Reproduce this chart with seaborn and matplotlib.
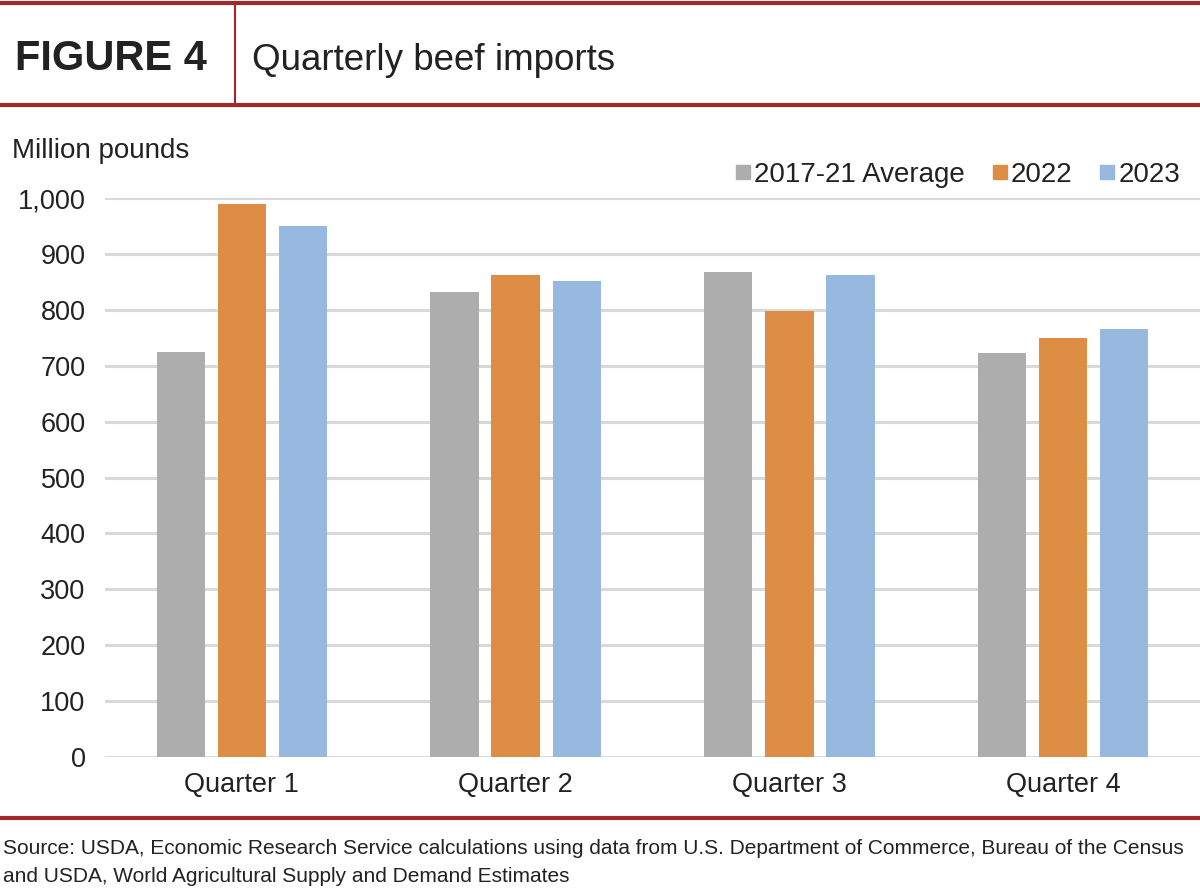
import pandas as pd
import seaborn as sns
import matplotlib.pyplot as plt
from matplotlib.lines import Line2D

quarters = ['Quarter 1', 'Quarter 2', 'Quarter 3', 'Quarter 4']
series = ['2017-21 Average', '2022', '2023']
avg_1721 = [724, 831, 867, 722]
y2022 = [989, 862, 797, 750]
y2023 = [950, 851, 862, 765]
yticks = [0, 100, 200, 300, 400, 500, 600, 700, 800, 900, 1000]

colours = ['#adadad', '#de8e44', '#97b8df']
red = '#9e2a2b'
ink = '#222222'

df = pd.DataFrame({
    'quarter': quarters * 3,
    'series': [s for s in series for _ in quarters],
    'value': avg_1721 + y2022 + y2023,
})

sns.set_theme(style='white')
plt.rcParams['font.family'] = ['Liberation Sans', 'DejaVu Sans']

fig = plt.figure(figsize=(12, 8.89), dpi=100)
ax = fig.add_axes([105 / 1200, 1 - 757 / 889, 1 - 105 / 1200, (757 - 198) / 889])

sns.barplot(data=df, x='quarter', y='value', hue='series', palette=colours,
            saturation=1, width=0.67, gap=0.21, linewidth=0, ax=ax,
            legend=False, zorder=3)

ax.set_ylim(0, 1000)
ax.set_yticks(yticks)
ax.set_yticklabels([f'{v:,}' for v in yticks])
ax.yaxis.grid(True, color='#d9d9d9', linewidth=2.2, zorder=0)
ax.set_axisbelow(True)
sns.despine(ax=ax, left=True, bottom=True, top=True, right=True)
ax.set_xlabel('')
ax.set_ylabel('')
ax.tick_params(axis='y', labelsize=19.5, colors=ink, pad=14, length=0)
ax.tick_params(axis='x', labelsize=19.5, colors=ink, pad=11, length=0)
ax.set_xlim(-0.5, 3.5)

# legend
handles = [Line2D([], [], marker='s', linestyle='', markersize=10, color=c) for c in colours]
fig.legend(handles, series, loc='center right', bbox_to_anchor=(1180 / 1200, 1 - 175 / 889),
           ncol=3, frameon=False, fontsize=20, handletextpad=0.05, handlelength=0.7,
           columnspacing=0.9, borderpad=0, borderaxespad=0, labelcolor=ink)

fig.text(12 / 1200, 1 - 151 / 889, 'Million pounds', fontsize=20, color=ink,
         va='center', ha='left')

# header
fig.add_artist(Line2D([0, 1], [1 - 3 / 889, 1 - 3 / 889], color=red, linewidth=3))
fig.add_artist(Line2D([0, 1], [1 - 105 / 889, 1 - 105 / 889], color=red, linewidth=3))
fig.add_artist(Line2D([235 / 1200, 235 / 1200], [1 - 105 / 889, 1 - 3 / 889], color=red, linewidth=1.5))
fig.text(15 / 1200, 1 - 59 / 889, 'FIGURE 4', fontsize=30, fontweight='bold',
         color=ink, va='center', ha='left')
fig.text(252 / 1200, 1 - 60 / 889, 'Quarterly beef imports', fontsize=26.5,
         color=ink, va='center', ha='left')

# bottom
fig.add_artist(Line2D([0, 1], [1 - 818 / 889, 1 - 818 / 889], color=red, linewidth=3))
fig.text(3 / 1200, 1 - 848 / 889,
         'Source: USDA, Economic Research Service calculations using data from U.S. Department of Commerce, Bureau of the Census',
         fontsize=15, color=ink, va='center', ha='left')
fig.text(3 / 1200, 1 - 876 / 889,
         'and USDA, World Agricultural Supply and Demand Estimates',
         fontsize=15, color=ink, va='center', ha='left')

fig.savefig('out.png', dpi=100)
